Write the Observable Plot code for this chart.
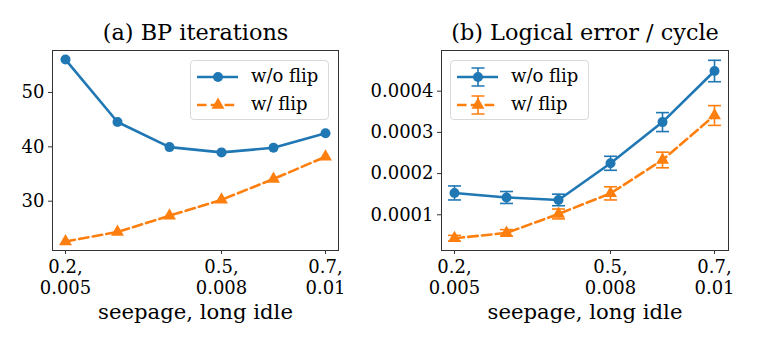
<!DOCTYPE html>
<html><head><meta charset="utf-8">
<script src="https://cdn.jsdelivr.net/npm/d3@7"></script>
<script src="https://cdn.jsdelivr.net/npm/@observablehq/plot@0.6"></script>
<style>
body{margin:0;background:#fff;}
#wrap{position:relative;width:757px;height:341px;font-family:"DejaVu Serif",serif;color:#000;overflow:hidden;}
#wrap > .panel{position:absolute;top:0;}
#wrap svg text{font-family:"DejaVu Serif",serif;}
.legend{position:absolute;box-sizing:border-box;border:1px solid #d9d9d9;border-radius:4px;background:rgba(255,255,255,0.85);}
.legend svg{position:absolute;left:0;top:0;overflow:visible;}
.legend .lab{position:absolute;font-family:"DejaVu Serif",serif;font-size:18px;line-height:18px;white-space:nowrap;}
</style></head>
<body><div id="wrap"></div>
<script>
// ---- data ----
const seepage = [0.2, 0.3, 0.4, 0.5, 0.6, 0.7];
const tickValues = [0.2, 0.5, 0.7];
const tickLabels = ["0.2,\n0.005", "0.5,\n0.008", "0.7,\n0.01"];
const seriesNames = ["w/o flip", "w/ flip"];
const colors = ["#1f77b4", "#ff7f0e"];
const titles = ["(a) BP iterations", "(b) Logical error / cycle"];
const xLabel = "seepage, long idle";

const bpNoFlip = [56.05, 44.57, 39.95, 38.98, 39.82, 42.5];
const bpFlip = [22.6, 24.34, 27.32, 30.25, 34.09, 38.17];
const bpTicks = [30, 40, 50];

const lerNoFlip = [0.000153, 0.000142, 0.000136, 0.000225, 0.000325, 0.000449];
const lerNoFlipErr = [0.000017, 0.0000145, 0.000014, 0.000017, 0.000023, 0.000026];
const lerFlip = [0.000043, 0.000056, 0.000102, 0.000152, 0.000233, 0.000341];
const lerFlipErr = [0.000007, 0.000008, 0.000012, 0.000016, 0.000019, 0.000024];
const lerTicks = [0.0001, 0.0002, 0.0003, 0.0004];

// ---- build ----
const rows = (vals, errs) => seepage.map((x, i) => ({x, y: vals[i], lo: vals[i] - (errs ? errs[i] : 0), hi: vals[i] + (errs ? errs[i] : 0)}));
const fmtX = d => tickLabels[tickValues.indexOf(d)];
const cap = {draw(ctx) { ctx.moveTo(-6.5, 0); ctx.lineTo(6.5, 0); }};
const FONT = "DejaVu Serif";
const style = {fontFamily: FONT, fontSize: "18px", color: "#000", background: "transparent", overflow: "visible"};
const dash = "9.6,4.2";
const lw = 2.6;

function axes(ticksY, fmtY) {
  return [
    Plot.frame({stroke: "#333", strokeWidth: 1}),
    Plot.axisX({ticks: tickValues, tickFormat: fmtX, tickSize: 4, tickPadding: 3, fontSize: 18, fontFamily: FONT, lineHeight: 1.2, label: null, stroke: "#333"}),
    Plot.axisY({ticks: ticksY, tickFormat: fmtY, tickSize: 4, tickPadding: 4, fontSize: 18, fontFamily: FONT, label: null, stroke: "#333"})
  ];
}
function texts(title) {
  return [
    Plot.text([title], {frameAnchor: "top", dy: -26, fontSize: 22.4, fontFamily: FONT}),
    Plot.text([xLabel], {frameAnchor: "bottom", dy: 68, fontSize: 21.2, fontFamily: FONT})
  ];
}

const a0 = rows(bpNoFlip), a1 = rows(bpFlip);
const plotA = Plot.plot({
  width: 378, height: 341, marginLeft: 52, marginRight: 40, marginTop: 50, marginBottom: 91,
  style,
  x: {domain: [0.175, 0.725]},
  y: {domain: [20.93, 57.72]},
  marks: [
    ...axes(bpTicks, d => String(d)),
    Plot.line(a1, {x: "x", y: "y", stroke: colors[1], strokeWidth: lw, strokeDasharray: dash}),
    Plot.line(a0, {x: "x", y: "y", stroke: colors[0], strokeWidth: lw}),
    Plot.dot(a1, {x: "x", y: "y", symbol: "triangle", r: 4.8, fill: colors[1]}),
    Plot.dot(a0, {x: "x", y: "y", r: 5, fill: colors[0]}),
    ...texts(titles[0])
  ]
});

const b0 = rows(lerNoFlip, lerNoFlipErr), b1 = rows(lerFlip, lerFlipErr);
const errMarks = (d, c) => [
  Plot.ruleX(d, {x: "x", y1: "lo", y2: "hi", stroke: c, strokeWidth: 1.6}),
  Plot.dot(d, {x: "x", y: "lo", symbol: cap, stroke: c, strokeWidth: 1.6, fill: "none"}),
  Plot.dot(d, {x: "x", y: "hi", symbol: cap, stroke: c, strokeWidth: 1.6, fill: "none"})
];
const plotB = Plot.plot({
  width: 379, height: 341, marginLeft: 63, marginRight: 29, marginTop: 50, marginBottom: 91,
  style,
  x: {domain: [0.175, 0.7269]},
  y: {domain: [0.0000133, 0.0004988]},
  marks: [
    ...axes(lerTicks, d => d.toFixed(4)),
    ...errMarks(b1, colors[1]),
    Plot.line(b1, {x: "x", y: "y", stroke: colors[1], strokeWidth: lw, strokeDasharray: dash}),
    Plot.dot(b1, {x: "x", y: "y", symbol: "triangle", r: 4.8, fill: colors[1]}),
    ...errMarks(b0, colors[0]),
    Plot.line(b0, {x: "x", y: "y", stroke: colors[0], strokeWidth: lw}),
    Plot.dot(b0, {x: "x", y: "y", r: 5, fill: colors[0]}),
    ...texts(titles[1])
  ]
});

const wrap = document.getElementById("wrap");
plotA.classList.add("panel"); plotA.style.left = "0px";
plotB.classList.add("panel"); plotB.style.left = "378px";
wrap.appendChild(plotA); wrap.appendChild(plotB);

// ---- legends ----
function legend(left, withErr) {
  const box = document.createElement("div");
  box.className = "legend";
  box.style.left = left + "px"; box.style.top = "60px";
  box.style.width = "139px"; box.style.height = "60px";
  const ns = "http://www.w3.org/2000/svg";
  const svg = document.createElementNS(ns, "svg");
  svg.setAttribute("width", 139); svg.setAttribute("height", 60);
  const ys = [16, 44];
  seriesNames.forEach((name, i) => {
    const y = ys[i], x1 = 6, x2 = 47, xm = 27;
    const ln = document.createElementNS(ns, "line");
    ln.setAttribute("x1", x1); ln.setAttribute("x2", x2); ln.setAttribute("y1", y); ln.setAttribute("y2", y);
    ln.setAttribute("stroke", colors[i]); ln.setAttribute("stroke-width", lw);
    if (i === 1) ln.setAttribute("stroke-dasharray", dash);
    svg.appendChild(ln);
    if (withErr) {
      const p = document.createElementNS(ns, "path");
      p.setAttribute("d", `M${xm},${y-9}V${y+9}M${xm-6.5},${y-9}H${xm+6.5}M${xm-6.5},${y+9}H${xm+6.5}`);
      p.setAttribute("stroke", colors[i]); p.setAttribute("stroke-width", 1.6); p.setAttribute("fill", "none");
      svg.appendChild(p);
    }
    const m = document.createElementNS(ns, "path");
    const sym = i === 0 ? d3.symbolCircle : d3.symbolTriangle;
    const r = i === 0 ? 5 : 4.8;
    m.setAttribute("d", d3.symbol(sym, Math.PI * r * r)());
    m.setAttribute("transform", `translate(${xm},${y})`);
    m.setAttribute("fill", colors[i]);
    svg.appendChild(m);
    const t = document.createElement("div");
    t.className = "lab"; t.textContent = name;
    t.style.left = "60px"; t.style.top = (y - 10) + "px";
    box.appendChild(t);
  });
  box.appendChild(svg);
  wrap.appendChild(box);
}
legend(190, false);
legend(450, true);
</script>
</body></html>
